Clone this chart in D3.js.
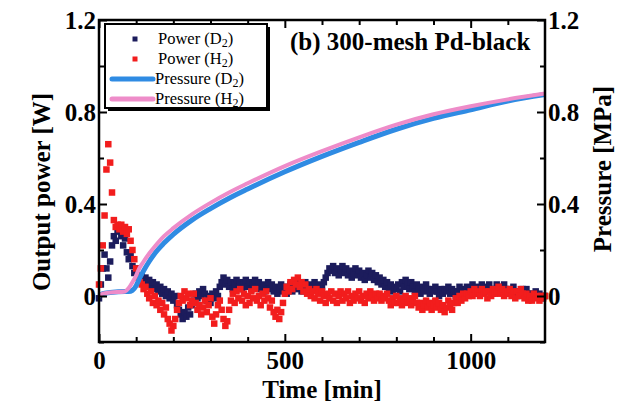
<!DOCTYPE html>
<html>
<head>
<meta charset="utf-8">
<script src="https://cdn.jsdelivr.net/npm/d3@7"></script>
<style>
  html, body { margin: 0; padding: 0; background: #fff; }
  svg { display: block; }
  text { font-family: "Liberation Serif", "Times New Roman", serif; }
</style>
</head>
<body>
<svg id="chart" width="622" height="407"></svg>
<script>
// ---- data ----
// Output power sampled every 5 min, 0 … 1200 min
const powerStep = 5;
const powerD2 = [
  -0.01, 0.05, 0.12, 0.18, 0.12, 0.08, 0.15, 0.22, 0.26, 0.24,
  0.28, 0.30, 0.26, 0.22, 0.25, 0.19, 0.16, 0.18, 0.13, 0.10,
  0.12, 0.09, 0.07, 0.09, 0.06, 0.08, 0.05, 0.07, 0.04, 0.06,
  0.03, 0.05, 0.02, 0.04, 0.01, 0.03, 0.00, 0.02, -0.01, 0.01,
  -0.02, 0.00, -0.04, -0.06, -0.08, -0.10, -0.07, -0.09, -0.05, -0.08,
  -0.04, -0.02, 0.01, -0.01, 0.02, 0.00, 0.03, 0.01, -0.02, 0.00,
  -0.03, 0.01, -0.01, 0.02, 0.00, 0.04, 0.06, 0.08, 0.05, 0.07,
  0.04, 0.06, 0.03, 0.05, 0.07, 0.04, 0.06, 0.03, 0.05, 0.07,
  0.04, 0.06, 0.03, 0.05, 0.07, 0.04, 0.06, 0.03, 0.05, 0.02,
  0.04, 0.06, 0.03, 0.05, 0.02, 0.04, 0.01, 0.03, 0.05, 0.02,
  0.04, 0.01, 0.03, 0.05, 0.02, 0.04, 0.06, 0.03, 0.05, 0.02,
  0.04, 0.06, 0.03, 0.05, 0.02, 0.04, 0.06, 0.03, 0.05, 0.02,
  0.04, 0.06, 0.08, 0.10, 0.12, 0.11, 0.13, 0.10, 0.12, 0.09,
  0.11, 0.13, 0.10, 0.12, 0.09, 0.11, 0.08, 0.10, 0.12, 0.09,
  0.11, 0.08, 0.10, 0.07, 0.09, 0.11, 0.08, 0.10, 0.07, 0.09,
  0.06, 0.08, 0.05, 0.07, 0.04, 0.06, 0.03, 0.05, 0.02, 0.04,
  0.03, 0.05, 0.02, 0.06, 0.04, 0.07, 0.05, 0.03, 0.06, 0.04,
  0.02, 0.05, 0.03, 0.01, 0.04, 0.02, 0.05, 0.03, 0.01, 0.03,
  0.02, 0.04, 0.02, 0.00, 0.03, 0.01, 0.03, 0.02, 0.04, 0.01,
  0.03, 0.02, 0.00, 0.02, 0.04, 0.01, 0.03, 0.02, 0.04, 0.01,
  0.03, 0.05, 0.02, 0.04, 0.01, 0.03, 0.05, 0.02, 0.04, 0.02,
  0.05, 0.03, 0.01, 0.03, 0.05, 0.02, 0.04, 0.02, 0.05, 0.03,
  0.01, 0.03, 0.02, 0.04, 0.02, 0.00, 0.02, 0.01, 0.03, 0.01,
  0.03, 0.01, -0.01, 0.01, 0.00, 0.02, 0.00, 0.01, -0.01, 0.00,
  0.00
];
const powerH2 = [
  0.05, 0.12, 0.22, 0.35, 0.55, 0.66, 0.58, 0.45, 0.33, 0.30,
  0.31, 0.29, 0.31, 0.28, 0.30, 0.27, 0.29, 0.24, 0.20, 0.16,
  0.12, 0.08, 0.06, 0.05, 0.03, 0.04, 0.01, -0.01, 0.02, -0.03,
  0.00, -0.04, -0.02, -0.06, -0.03, -0.08, -0.05, -0.10, -0.12, -0.15,
  -0.13, -0.10, -0.06, -0.03, 0.00, -0.02, 0.02, -0.01, 0.01, -0.04,
  -0.02, 0.01, -0.03, -0.06, -0.04, -0.08, -0.05, -0.02, -0.07, -0.04,
  -0.01, -0.09, -0.12, -0.08, -0.04, -0.02, -0.06, -0.10, -0.13, -0.11,
  -0.06, -0.02, 0.01, -0.03, 0.02, -0.01, 0.03, -0.02, 0.01, -0.04,
  0.00, -0.03, 0.02, -0.01, 0.03, -0.02, 0.00, -0.04, 0.01, -0.02,
  0.02, -0.01, -0.05, -0.02, -0.07, -0.09, -0.06, -0.10, -0.07, -0.03,
  0.01, 0.04, 0.02, 0.06, 0.03, 0.07, 0.05, 0.08, 0.04, 0.06,
  0.02, 0.05, 0.01, 0.03, 0.00, 0.02, -0.01, 0.03, 0.01, -0.02,
  0.02, 0.00, -0.03, 0.01, -0.01, 0.02, -0.02, 0.01, -0.03, 0.00,
  0.02, -0.02, 0.01, -0.01, 0.02, -0.03, 0.00, -0.02, 0.01, -0.01,
  0.02, -0.02, 0.00, -0.03, 0.01, -0.01, 0.02, 0.00, -0.02, 0.01,
  -0.01, 0.01, -0.02, 0.00, -0.01, 0.01, -0.02, -0.04, -0.01, -0.03,
  0.00, -0.03, -0.01, -0.04, -0.02, 0.00, -0.03, -0.01, -0.04, -0.02,
  0.00, -0.03, -0.05, -0.03, -0.06, -0.04, -0.02, -0.05, -0.03, -0.06,
  -0.04, -0.02, -0.05, -0.03, -0.06, -0.04, -0.07, -0.05, -0.02, -0.04,
  -0.06, -0.03, -0.01, -0.03, 0.00, -0.02, 0.01, -0.01, 0.01, 0.00,
  0.02, 0.00, 0.03, 0.01, 0.02, 0.00, 0.03, 0.01, 0.02, -0.01,
  0.02, 0.00, 0.03, 0.01, 0.02, 0.04, 0.01, 0.03, 0.00, 0.02,
  0.01, 0.03, 0.00, 0.02, -0.01, 0.02, 0.00, 0.03, 0.01, -0.01,
  0.01, -0.02, 0.00, -0.02, 0.01, -0.01, 0.00, -0.02, 0.00, -0.01,
  0.00
];

// Cell pressure (MPa)
const pressureTime = [0, 10, 30, 70, 80, 90, 100, 110, 120, 135, 150, 175, 200, 250, 300, 350, 400, 500, 600, 700, 800, 900, 1000, 1100, 1200];
const pressureH2 = [0.00, 0.01, 0.015, 0.02, 0.035, 0.06, 0.09, 0.125, 0.15, 0.185, 0.215, 0.26, 0.295, 0.355, 0.405, 0.45, 0.49, 0.565, 0.63, 0.69, 0.745, 0.79, 0.825, 0.855, 0.88];
const pressureD2 = [0.00, 0.01, 0.015, 0.02, 0.02, 0.025, 0.045, 0.08, 0.11, 0.15, 0.185, 0.23, 0.268, 0.33, 0.38, 0.425, 0.465, 0.54, 0.607, 0.668, 0.725, 0.772, 0.81, 0.848, 0.876];

// Axis ticks
const xMajor = [0, 500, 1000];
const xMinor = [100, 200, 300, 400, 600, 700, 800, 900, 1100];
const yMajor = [0, 0.4, 0.8, 1.2];
const yMinor = [-0.2, 0.2, 0.6, 1.0];

const legendItems = [
  { label: "Power (D", sub: "2", tail: ")", kind: "point", color: "#1c1c5c" },
  { label: "Power (H", sub: "2", tail: ")", kind: "point", color: "#f21d1d" },
  { label: "Pressure (D", sub: "2", tail: ")", kind: "line", color: "#2f8be3" },
  { label: "Pressure (H", sub: "2", tail: ")", kind: "line", color: "#ee8cc9" }
];

// ---- layout ----
const svg = d3.select("#chart");
const L = 99, R = 545, T = 20, B = 342;

const x = d3.scaleLinear().domain([0, 1200]).range([L, R]);
const yP = d3.scaleLinear().domain([-0.2, 1.2]).range([B, T]);   // output power [W]
const yM = d3.scaleLinear().domain([-0.2, 1.2]).range([B, T]);   // pressure [MPa]

const fontTick = "bold 25px 'Liberation Serif', 'Times New Roman', serif";

// ---- power markers ----
const ptsD2 = powerD2.map((v, i) => [i * powerStep, v]);
const ptsH2 = powerH2.map((v, i) => [i * powerStep, v]);
const ms = 6.5;
svg.append("g").selectAll("rect").data(ptsD2).join("rect")
  .attr("x", d => x(d[0]) - ms / 2).attr("y", d => yP(d[1]) - ms / 2)
  .attr("width", ms).attr("height", ms).attr("fill", "#1c1c5c");
svg.append("g").selectAll("rect").data(ptsH2).join("rect")
  .attr("x", d => x(d[0]) - ms / 2).attr("y", d => yP(d[1]) - ms / 2)
  .attr("width", ms).attr("height", ms).attr("fill", "#f21d1d");

// ---- pressure curves ----
const line = d3.line().x(d => x(d[0])).y(d => yM(d[1])).curve(d3.curveMonotoneX);
svg.append("path").datum(pressureTime.map((t, i) => [t, pressureD2[i]]))
  .attr("d", line).attr("fill", "none").attr("stroke", "#2f8be3").attr("stroke-width", 5);
svg.append("path").datum(pressureTime.map((t, i) => [t, pressureH2[i]]))
  .attr("d", line).attr("fill", "none").attr("stroke", "#ee8cc9").attr("stroke-width", 4);

// ---- axes ----
function styleAxis(g) {
  g.select(".domain").remove();
  g.selectAll("line").attr("stroke", "#000").attr("stroke-width", 2);
  g.selectAll("text").style("font", fontTick).attr("fill", "#000");
}
svg.append("g").attr("transform", `translate(0,${B})`)
  .call(d3.axisBottom(x).tickValues(xMajor).tickSize(-8).tickPadding(9).tickFormat(d3.format("d"))).call(styleAxis);
svg.append("g").attr("transform", `translate(0,${B})`)
  .call(d3.axisBottom(x).tickValues(xMinor).tickSize(-5).tickFormat("")).call(styleAxis);
svg.append("g").attr("transform", `translate(0,${T})`)
  .call(d3.axisTop(x).tickValues(xMajor).tickSize(-8).tickFormat("")).call(styleAxis);
svg.append("g").attr("transform", `translate(0,${T})`)
  .call(d3.axisTop(x).tickValues(xMinor).tickSize(-5).tickFormat("")).call(styleAxis);

const fmtY = d => d === 0 ? "0" : d3.format(".1f")(d);
svg.append("g").attr("transform", `translate(${L},0)`)
  .call(d3.axisLeft(yP).tickValues(yMajor).tickSize(-8).tickPadding(3).tickFormat(fmtY)).call(styleAxis);
svg.append("g").attr("transform", `translate(${L},0)`)
  .call(d3.axisLeft(yP).tickValues(yMinor).tickSize(-5).tickFormat("")).call(styleAxis);
svg.append("g").attr("transform", `translate(${R},0)`)
  .call(d3.axisRight(yM).tickValues(yMajor).tickSize(-8).tickPadding(3).tickFormat(fmtY)).call(styleAxis);
svg.append("g").attr("transform", `translate(${R},0)`)
  .call(d3.axisRight(yM).tickValues(yMinor).tickSize(-5).tickFormat("")).call(styleAxis);

// frame
svg.append("rect").attr("x", L).attr("y", T).attr("width", R - L).attr("height", B - T)
  .attr("fill", "none").attr("stroke", "#000").attr("stroke-width", 2.5);

// ---- axis titles ----
svg.append("text").attr("x", (L + R) / 2).attr("y", 398).attr("text-anchor", "middle")
  .style("font", fontTick).text("Time [min]");
svg.append("text").attr("transform", "translate(50,192) rotate(-90)").attr("text-anchor", "middle")
  .style("font", fontTick).text("Output power [W]");
svg.append("text").attr("transform", "translate(611,169) rotate(-90)").attr("text-anchor", "middle")
  .style("font", fontTick).text("Pressure [MPa]");

// panel title
svg.append("text").attr("x", 290).attr("y", 50).style("font", fontTick).text("(b) 300-mesh Pd-black");

// ---- legend ----
const lg = svg.append("g");
lg.append("rect").attr("x", 108).attr("y", 27).attr("width", 162).attr("height", 84).attr("fill", "#000");
lg.append("rect").attr("x", 105).attr("y", 24).attr("width", 162).attr("height", 84)
  .attr("fill", "#fff").attr("stroke", "#000").attr("stroke-width", 2);
legendItems.forEach((d, i) => {
  const cy = 39 + i * 20;
  if (d.kind === "point") {
    lg.append("rect").attr("x", 135 - 2.5).attr("y", cy - 2.5).attr("width", 5).attr("height", 5).attr("fill", d.color);
  } else {
    lg.append("line").attr("x1", 112).attr("x2", 153).attr("y1", cy).attr("y2", cy)
      .attr("stroke", d.color).attr("stroke-width", 5).attr("stroke-linecap", "round");
  }
  const t = lg.append("text").attr("x", d.kind === "point" ? 158 : 155).attr("y", cy + 5)
    .style("font", "16.5px 'Liberation Serif', 'Times New Roman', serif");
  t.append("tspan").text(d.label);
  t.append("tspan").attr("dy", 2.5).style("font-size", "12px").text(d.sub);
  t.append("tspan").attr("dy", -2.5).text(d.tail);
});
</script>
</body>
</html>
